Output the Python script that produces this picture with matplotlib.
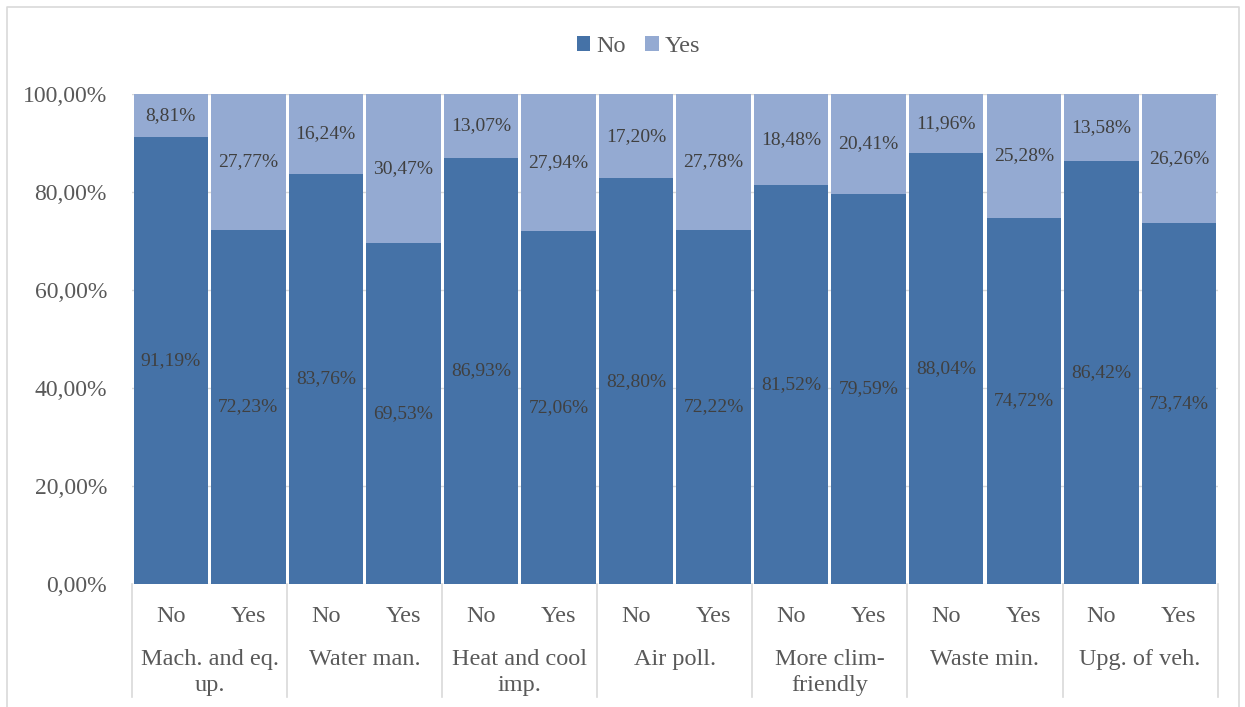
import matplotlib
matplotlib.use('Agg')
import matplotlib.pyplot as plt
from matplotlib.lines import Line2D
import matplotlib.transforms as mtransforms
import numpy as np

# data
groups = ['Mach. and eq.\nup.', 'Water man.', 'Heat and cool\nimp.', 'Air poll.',
          'More clim-\nfriendly', 'Waste min.', 'Upg. of veh.']
sub_labels = ['No', 'Yes']
share_no = [91.19, 72.23, 83.76, 69.53, 86.93, 72.06, 82.80, 72.22,
            81.52, 79.59, 88.04, 74.72, 86.42, 73.74]
share_yes = [8.81, 27.77, 16.24, 30.47, 13.07, 27.94, 17.20, 27.78,
             18.48, 20.41, 11.96, 25.28, 13.58, 26.26]
yticks = [0, 20, 40, 60, 80, 100]

plt.rcParams['font.family'] = ['Liberation Serif', 'DejaVu Serif']

c_no = '#4572A7'
c_yes = '#94AAD2'
txt = '#595959'
grid_c = '#D9D9D9'

fig = plt.figure(figsize=(12.45, 7.07), dpi=100)
ax = fig.add_axes([0.106, 0.174, 0.872, 0.693])

x = np.arange(len(share_no))
ax.bar(x, share_no, width=0.96, color=c_no, label='No', zorder=2)
ax.bar(x, share_yes, width=0.96, bottom=share_no, color=c_yes, label='Yes', zorder=2)

def fmt(v):
    return ('%.2f' % v).replace('.', ',') + '%'

for i in range(len(x)):
    ax.text(x[i], share_no[i] / 2, fmt(share_no[i]), ha='center', va='center',
            fontsize=14, color='#404040', zorder=3)
    ax.text(x[i], share_no[i] + share_yes[i] / 2, fmt(share_yes[i]), ha='center',
            va='center', fontsize=14, color='#404040', zorder=3)

ax.set_xlim(-0.5, len(x) - 0.5)
ax.set_ylim(0, 100)
ax.set_yticks(yticks)
ax.set_yticklabels([fmt(v) for v in yticks], fontsize=17, color=txt)
ax.tick_params(axis='y', length=0, pad=18)
ax.yaxis.grid(True, color=grid_c, linewidth=1, zorder=0)
for s in ax.spines.values():
    s.set_visible(False)

# inner labels
ax.set_xticks(x)
ax.set_xticklabels([sub_labels[i % 2] for i in range(len(x))], fontsize=17.5, color=txt)
ax.tick_params(axis='x', length=0, pad=16)

# outer group labels and separators
trans = mtransforms.blended_transform_factory(ax.transData, ax.transAxes)
for g, name in enumerate(groups):
    ax.text(2 * g + 0.5, -0.133, name, transform=trans, ha='center', va='top',
            fontsize=17.5, color=txt, linespacing=1.3)
for g in range(len(groups) + 1):
    ax.add_line(Line2D([2 * g - 0.5, 2 * g - 0.5], [0, -0.23], transform=trans,
                       color=grid_c, linewidth=1.2, clip_on=False))

fig.legend(loc='center', bbox_to_anchor=(0.513, 0.934), ncol=2, frameon=False,
           fontsize=17.5, labelcolor=txt, handlelength=0.55, handleheight=0.55,
           handletextpad=0.25, columnspacing=0.8)

# light frame around the chart
fig.add_artist(Line2D([0.0056, 0.0056, 0.995, 0.995], [0.0, 0.99, 0.99, 0.0],
                      transform=fig.transFigure, color=grid_c, linewidth=1.2))

fig.savefig('out.png', dpi=100)
